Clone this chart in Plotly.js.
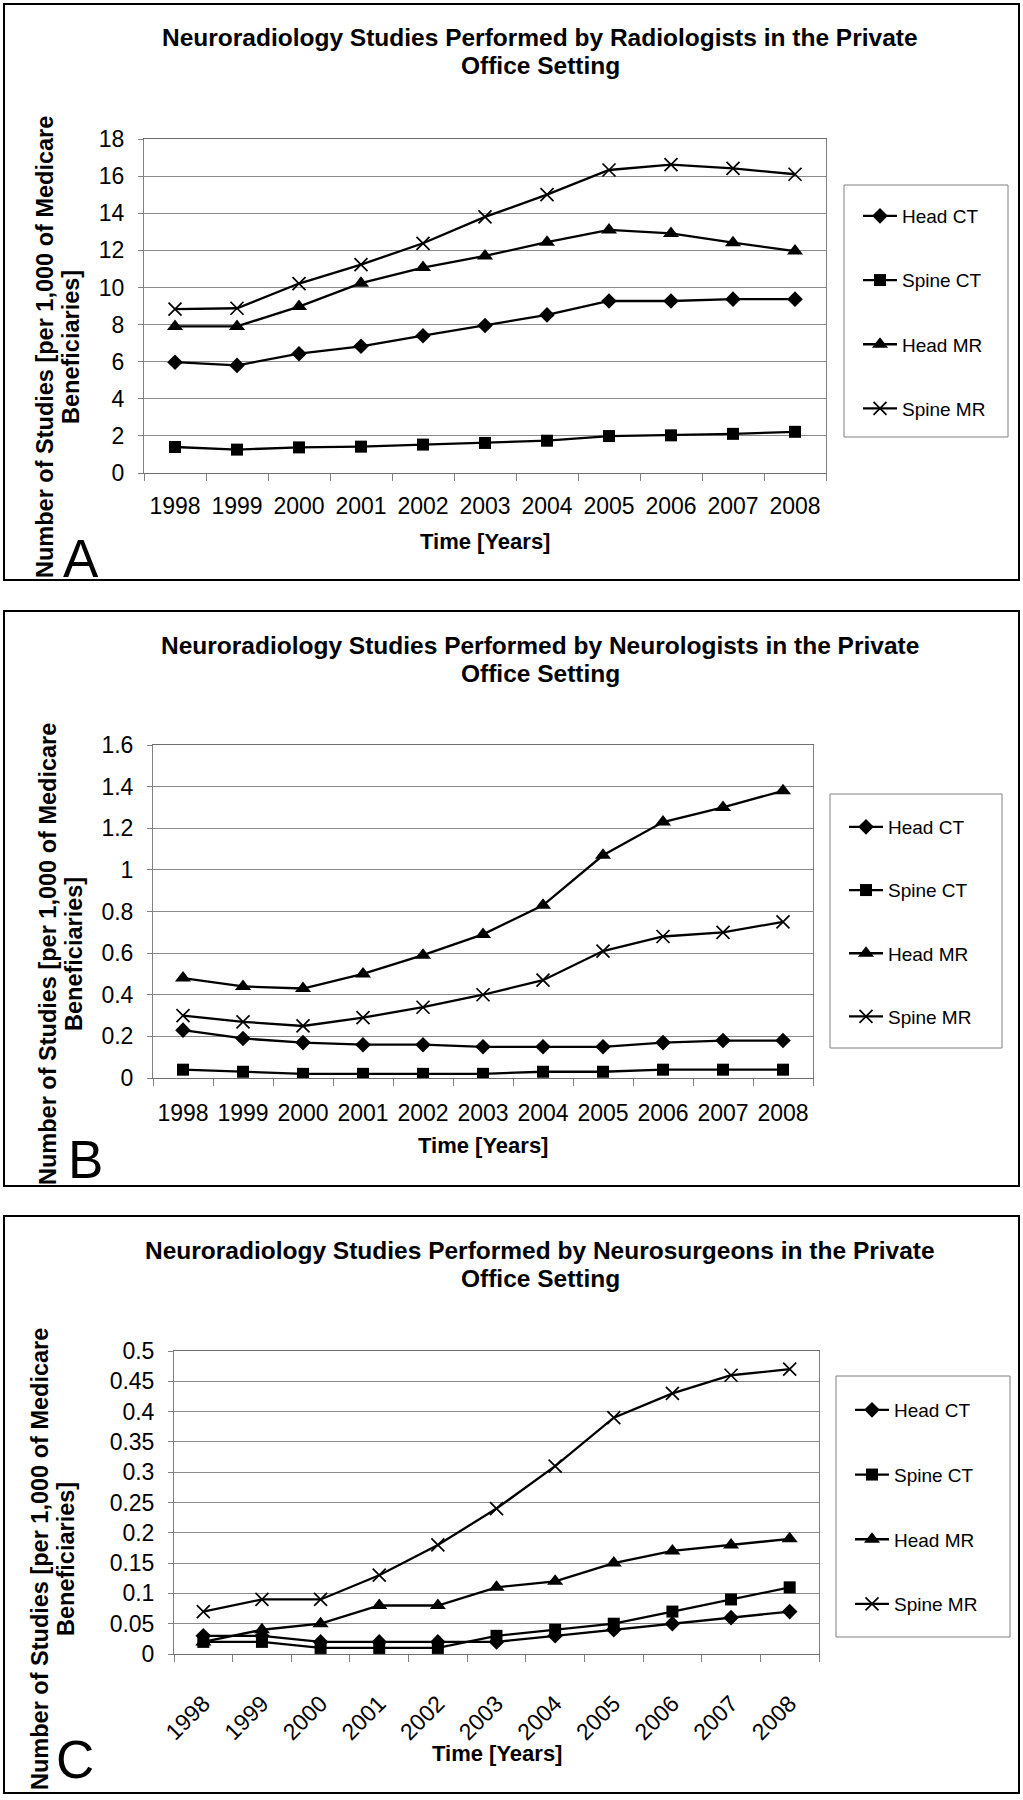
<!DOCTYPE html>
<html>
<head>
<meta charset="utf-8">
<script src="https://cdn.plot.ly/plotly-3.0.1.min.js"></script>
<style>html,body{margin:0;padding:0;background:#fff;}#chart{width:1023px;height:1800px;}</style>
</head>
<body>
<div id="chart"></div>
<script>
// ---------- data ----------
const years = ['1998','1999','2000','2001','2002','2003','2004','2005','2006','2007','2008'];
const seriesNames = ['Head CT','Spine CT','Head MR','Spine MR'];

// A: Radiologists
const radHeadCT  = [5.97, 5.80, 6.43, 6.83, 7.40, 7.95, 8.52, 9.27, 9.27, 9.37, 9.37];
const radSpineCT = [1.40, 1.26, 1.38, 1.42, 1.53, 1.62, 1.74, 1.99, 2.03, 2.11, 2.22];
const radHeadMR  = [7.90, 7.90, 8.97, 10.23, 11.07, 11.70, 12.44, 13.10, 12.91, 12.41, 11.96];
const radSpineMR = [8.83, 8.88, 10.21, 11.23, 12.38, 13.80, 15.00, 16.33, 16.62, 16.42, 16.10];

// B: Neurologists
const neuHeadCT  = [0.23, 0.19, 0.17, 0.16, 0.16, 0.15, 0.15, 0.15, 0.17, 0.18, 0.18];
const neuSpineCT = [0.04, 0.03, 0.02, 0.02, 0.02, 0.02, 0.03, 0.03, 0.04, 0.04, 0.04];
const neuHeadMR  = [0.48, 0.44, 0.43, 0.50, 0.59, 0.69, 0.83, 1.07, 1.23, 1.30, 1.38];
const neuSpineMR = [0.30, 0.27, 0.25, 0.29, 0.34, 0.40, 0.47, 0.61, 0.68, 0.70, 0.75];

// C: Neurosurgeons
const surHeadCT  = [0.03, 0.03, 0.02, 0.02, 0.02, 0.02, 0.03, 0.04, 0.05, 0.06, 0.07];
const surSpineCT = [0.02, 0.02, 0.01, 0.01, 0.01, 0.03, 0.04, 0.05, 0.07, 0.09, 0.11];
const surHeadMR  = [0.02, 0.04, 0.05, 0.08, 0.08, 0.11, 0.12, 0.15, 0.17, 0.18, 0.19];
const surSpineMR = [0.07, 0.09, 0.09, 0.13, 0.18, 0.24, 0.31, 0.39, 0.43, 0.46, 0.47];

const titlesLine1 = [
  'Neuroradiology Studies Performed by Radiologists in the Private',
  'Neuroradiology Studies Performed by Neurologists in the Private',
  'Neuroradiology Studies Performed by Neurosurgeons in the Private'
];
const titleLine2 = 'Office Setting';
const panelLetters = ['A','B','C'];
const xTitle = 'Time [Years]';
const yTitleLine1 = 'Number of Studies [per 1,000 of Medicare';
const yTitleLine2 = 'Beneficiaries]';

// ---------- layout helpers ----------
const W = 1023, H = 1800;
const px = x => x / W;
const py = y => 1 - y / H;
const FONT = 'Liberation Sans, Arial, Helvetica, sans-serif';

const symbols = ['diamond','square','triangle-up','x-thin-open'];
const sizes = [12, 12, 14, 13];

const panels = [
  { data:[radHeadCT, radSpineCT, radHeadMR, radSpineMR], yrange:[0,18], dtick:2,
    box:[4,4,1019,580], plot:[144,139,826,473], legBox:[844,185,1008,437], legTop:197, gap:36.5,
    yTitleX:[45,71], letter:[81,558], xTitleY:541, tickangle:0, xstand:12 },
  { data:[neuHeadCT, neuSpineCT, neuHeadMR, neuSpineMR], yrange:[0,1.6], dtick:0.2,
    box:[4,611,1019,1186], plot:[153,745,813,1078], legBox:[830,794,1002,1048], legTop:808, gap:35.5,
    yTitleX:[48,74], letter:[85,1159], xTitleY:1145, tickangle:0, xstand:14 },
  { data:[surHeadCT, surSpineCT, surHeadMR, surSpineMR], yrange:[0,0.5], dtick:0.05,
    box:[4,1216,1019,1793], plot:[174,1351,819,1654], legBox:[836,1376,1010,1637], legTop:1391, gap:37,
    yTitleX:[40,66], letter:[75,1759], xTitleY:1753, tickangle:-45, xstand:26 }
];

const traces = [];
const layout = {
  width: W, height: H,
  margin: {l:0, r:0, t:0, b:0},
  paper_bgcolor: '#ffffff', plot_bgcolor: '#ffffff',
  font: {family: FONT, color: '#000000'},
  showlegend: true,
  shapes: [], annotations: []
};

panels.forEach((p, i) => {
  const n = i + 1;
  const sfx = (n === 1 ? '' : String(n));
  const xa = 'xaxis' + sfx;
  const ya = 'yaxis' + sfx;
  const lg = 'legend' + sfx;

  layout[xa] = {
    domain: [px(p.plot[0]), px(p.plot[2])],
    anchor: 'y' + sfx,
    type: 'category', range: [-0.5, 10.5], tickson: 'boundaries',
    ticks: 'outside', ticklen: 7, tickcolor: '#808080', tickwidth: 1,
    showline: true, linecolor: '#6e6e6e', linewidth: 1, mirror: true,
    showgrid: false, zeroline: false,
    tickangle: p.tickangle, ticklabelstandoff: p.xstand,
    tickfont: {size: 23, color: '#000', family: FONT},
    fixedrange: true
  };
  layout[ya] = {
    domain: [py(p.plot[3]), py(p.plot[1])],
    anchor: 'x' + sfx,
    range: p.yrange, tick0: 0, dtick: p.dtick,
    ticks: 'outside', ticklen: 5, tickcolor: '#808080', tickwidth: 1,
    showline: true, linecolor: '#808080', linewidth: 1, mirror: true,
    showgrid: true, gridcolor: '#8a8a8a', gridwidth: 1, zeroline: false,
    ticklabelstandoff: 9,
    tickfont: {size: 23, color: '#000', family: FONT},
    fixedrange: true
  };
  layout[lg] = {
    x: px(p.legBox[0] + 14), y: py(p.legTop), xanchor: 'left', yanchor: 'top',
    bgcolor: 'rgba(0,0,0,0)', borderwidth: 0,
    font: {size: 19, color: '#000', family: FONT},
    traceorder: 'grouped', tracegroupgap: p.gap, itemwidth: 34, valign: 'middle'
  };

  p.data.forEach((vals, j) => {
    traces.push({
      x: years, y: vals, type: 'scatter', mode: 'lines+markers',
      name: seriesNames[j],
      xaxis: 'x' + sfx, yaxis: 'y' + sfx,
      legend: lg, legendgroup: 'p' + n + 's' + j,
      line: {color: '#000', width: 2.3},
      marker: {symbol: symbols[j], size: sizes[j], color: '#000',
               line: {color: '#000', width: symbols[j] === 'x-thin-open' ? 1.7 : 0}},
      hoverinfo: 'x+y+name'
    });
  });

  // panel frame
  layout.shapes.push({type:'rect', xref:'paper', yref:'paper',
    x0: px(p.box[0]), x1: px(p.box[2]), y0: py(p.box[3]), y1: py(p.box[1]),
    line: {color:'#000', width:2}, fillcolor:'rgba(0,0,0,0)', layer:'below'});
  // legend frame
  layout.shapes.push({type:'rect', xref:'paper', yref:'paper',
    x0: px(p.legBox[0]), x1: px(p.legBox[2]), y0: py(p.legBox[3]), y1: py(p.legBox[1]),
    line: {color:'#808080', width:1}, fillcolor:'rgba(0,0,0,0)', layer:'below'});

  const top = p.box[1];
  // titles (two lines)
  layout.annotations.push({xref:'paper', yref:'paper', x: px(540), y: py(top + 34),
    text: '<b>' + titlesLine1[i] + '</b>', showarrow:false, xanchor:'center', yanchor:'middle',
    font:{size:24.5, family:FONT, color:'#000'}});
  layout.annotations.push({xref:'paper', yref:'paper', x: px(540), y: py(top + 62),
    text: '<b>' + titleLine2 + '</b>', showarrow:false, xanchor:'center', yanchor:'middle',
    font:{size:24.5, family:FONT, color:'#000'}});
  // x title
  layout.annotations.push({xref:'paper', yref:'paper', x: px((p.plot[0] + p.plot[2]) / 2), y: py(p.xTitleY),
    text: '<b>' + xTitle + '</b>', showarrow:false, xanchor:'center', yanchor:'middle',
    font:{size:22, family:FONT, color:'#000'}});
  // y title (two rotated lines)
  const yc = top + 343;
  layout.annotations.push({xref:'paper', yref:'paper', x: px(p.yTitleX[0]), y: py(yc),
    text: '<b>' + yTitleLine1 + '</b>', showarrow:false, textangle:-90, xanchor:'center', yanchor:'middle',
    font:{size:23.5, family:FONT, color:'#000'}});
  layout.annotations.push({xref:'paper', yref:'paper', x: px(p.yTitleX[1]), y: py(yc),
    text: '<b>' + yTitleLine2 + '</b>', showarrow:false, textangle:-90, xanchor:'center', yanchor:'middle',
    font:{size:23.5, family:FONT, color:'#000'}});
  // panel letter
  layout.annotations.push({xref:'paper', yref:'paper', x: px(p.letter[0]), y: py(p.letter[1]),
    text: panelLetters[i], showarrow:false, xanchor:'center', yanchor:'middle',
    font:{size:53, family:FONT, color:'#000'}});
});

Plotly.newPlot('chart', traces, layout, {displayModeBar:false, staticPlot:true});
</script>
</body>
</html>
